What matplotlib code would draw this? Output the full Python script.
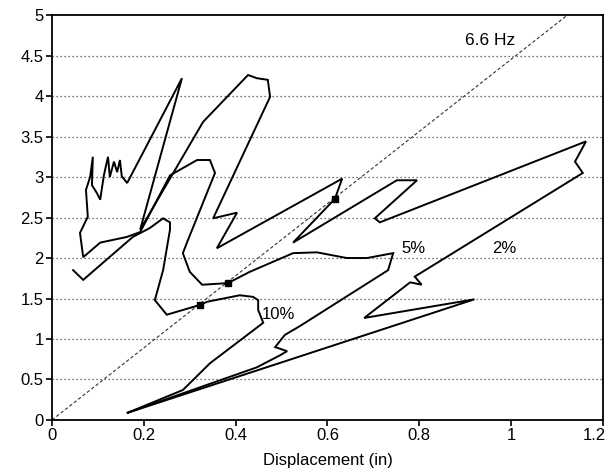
import numpy as np
import matplotlib.pyplot as plt
import matplotlib.transforms as mtransforms

plt.rcParams['font.family'] = ['Liberation Sans', 'DejaVu Sans']

# -----------------------------
# Data
# -----------------------------
x_ticks = [0, 0.2, 0.4, 0.6, 0.8, 1.0, 1.2]
x_tick_labels = ["0", "0.2", "0.4", "0.6", "0.8", "1", "1.2"]
y_ticks = [0, 0.5, 1, 1.5, 2, 2.5, 3, 3.5, 4, 4.5, 5]
y_tick_labels = ["0", "0.5", "1", "1.5", "2", "2.5", "3", "3.5", "4", "4.5", "5"]
grid_y = [0.5, 1, 1.5, 2, 2.5, 3, 3.5, 4, 4.5]

# 2% damping
d2_x = [0.165, 0.92, 0.68, 0.78, 0.805, 0.79, 1.156, 1.139, 1.163, 0.714, 0.703,
        0.795, 0.751, 0.525, 0.616, 0.632, 0.359, 0.403, 0.351, 0.475, 0.47,
        0.446, 0.427, 0.329, 0.192, 0.283, 0.165]
d2_y = [0.09, 1.49, 1.26, 1.70, 1.67, 1.77, 3.05, 3.19, 3.44, 2.44, 2.49,
        2.96, 2.96, 2.19, 2.73, 2.98, 2.12, 2.56, 2.49, 3.99, 4.20,
        4.22, 4.26, 3.68, 2.35, 4.22, 2.94]

# 5% damping
d5_x = [0.165, 0.446, 0.497, 0.512, 0.486, 0.507, 0.54, 0.732, 0.743, 0.686,
        0.642, 0.577, 0.525, 0.431, 0.383, 0.327, 0.30, 0.285, 0.296, 0.355,
        0.344, 0.316, 0.257, 0.192, 0.163, 0.105, 0.068, 0.061, 0.078, 0.074,
        0.083, 0.089, 0.087, 0.098, 0.105, 0.113, 0.122, 0.126, 0.135, 0.142,
        0.148, 0.152, 0.163]
d5_y = [0.09, 0.65, 0.80, 0.85, 0.90, 1.05, 1.16, 1.85, 2.06, 2.00,
        2.00, 2.07, 2.06, 1.83, 1.69, 1.67, 1.83, 2.06, 2.22, 3.05,
        3.21, 3.21, 3.02, 2.32, 2.26, 2.19, 2.01, 2.31, 2.51, 2.84,
        3.00, 3.25, 2.90, 2.80, 2.72, 3.02, 3.25, 3.00, 3.19, 3.06,
        3.21, 3.01, 2.93]

# 10% damping
d10_x = [0.165, 0.285, 0.344, 0.46, 0.449, 0.449, 0.438, 0.409, 0.338, 0.322,
         0.25, 0.224, 0.242, 0.257, 0.257, 0.242, 0.213, 0.176, 0.068, 0.046]
d10_y = [0.09, 0.37, 0.70, 1.20, 1.36, 1.48, 1.52, 1.54, 1.46, 1.42,
         1.30, 1.48, 1.85, 2.35, 2.44, 2.49, 2.37, 2.26, 1.73, 1.85]

# points where the curves cross the 6.6 Hz line
cross_x = [0.322, 0.383, 0.616]
cross_y = [1.42, 1.69, 2.73]

freq_hz = 6.6
g_in = 386.1
slope = (2 * np.pi * freq_hz) ** 2 / g_in

# -----------------------------
# Plot
# -----------------------------
fig = plt.figure(figsize=(6.13, 4.70), dpi=100)
ax = fig.add_axes([0.0848, 0.1064, 0.8989, 0.8616])

for gy in grid_y:
    ax.axhline(gy, color='#444444', lw=0.9, ls=(0, (1, 2.2)), zorder=1)

ax.plot([0, 5 / slope], [0, 5], color='#333333', lw=0.8, ls=(0, (3, 2)), zorder=2)

for cx, cy in [(d2_x, d2_y), (d5_x, d5_y), (d10_x, d10_y)]:
    ax.plot(cx, cy, color='black', lw=1.4, solid_joinstyle='miter', zorder=3)

ax.plot(cross_x, cross_y, ls='none', marker='s', ms=5, color='black', zorder=4)

ax.text(0.899, 4.69, "6.6 Hz", fontsize=12.5, va='center', ha='left')
ax.text(0.457, 1.30, "10%", fontsize=12, va='center', ha='left')
ax.text(0.762, 2.12, "5%", fontsize=12, va='center', ha='left')
ax.text(0.958, 2.12, "2%", fontsize=12, va='center', ha='left')

ax.set_xlim(0, 1.2)
ax.set_ylim(0, 5)
ax.set_xticks(x_ticks)
ax.set_xticklabels(x_tick_labels)
ax.set_yticks(y_ticks)
ax.set_yticklabels(y_tick_labels)
ax.tick_params(direction='out', length=4, width=1.2, labelsize=12, pad=2)
ax.set_xlabel("Displacement (in)", fontsize=12, labelpad=7)

# last x label sits right at the figure edge, nudge it in a bit
last = ax.get_xticklabels()[-1]
last.set_transform(last.get_transform() +
                   mtransforms.ScaledTranslation(-6 / 72, 0, fig.dpi_scale_trans))

for sp in ax.spines.values():
    sp.set_linewidth(1.3)

fig.savefig("out.png", dpi=100)
